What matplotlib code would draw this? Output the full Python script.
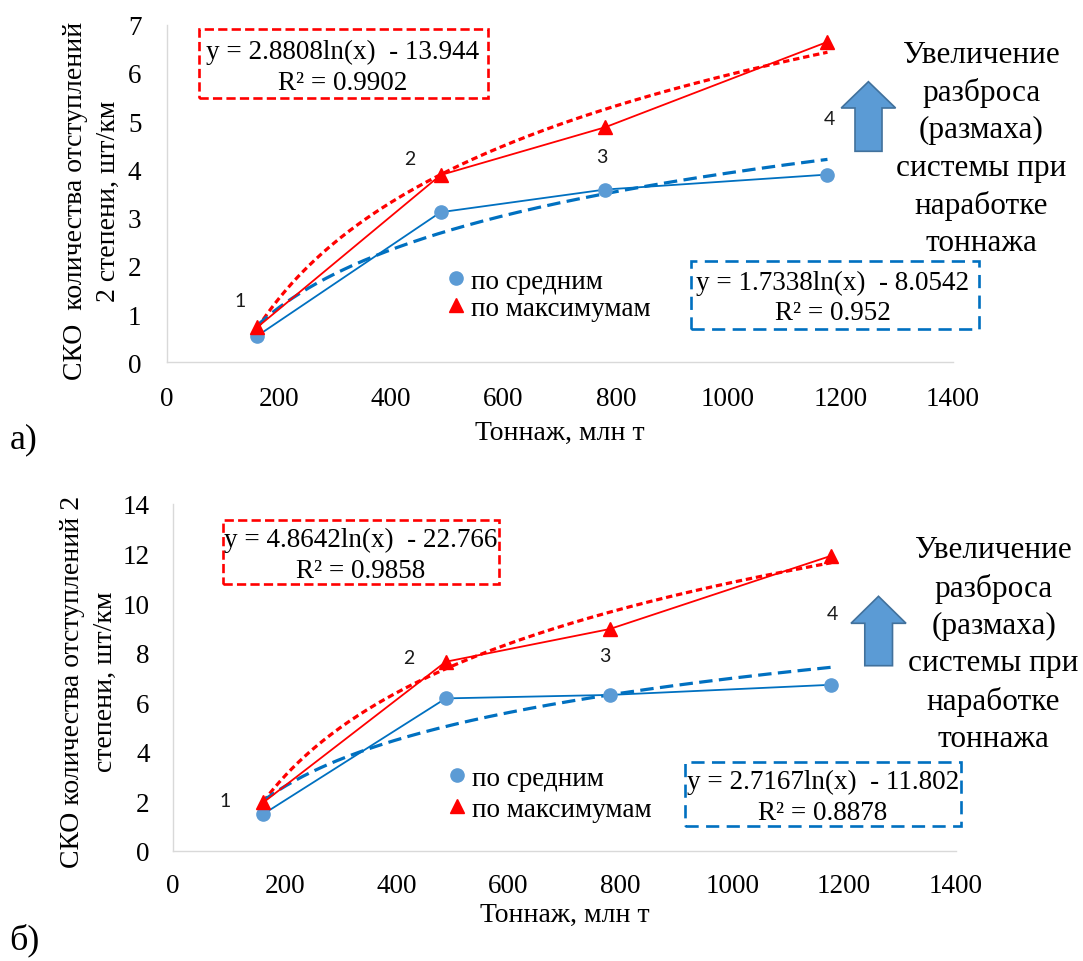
import numpy as np
import matplotlib
matplotlib.use("Agg")
import matplotlib.pyplot as plt
from matplotlib.patches import Rectangle, Polygon

# ---------------- data ----------------
tonnage = [162, 488, 781, 1177]
point_labels = ["1", "2", "3", "4"]

a_mean = [0.55, 3.11, 3.58, 3.89]
a_max = [0.73, 3.88, 4.87, 6.64]
b_mean = [1.48, 6.15, 6.29, 6.70]
b_max = [1.95, 7.63, 8.95, 11.91]

x_ticks = [0, 200, 400, 600, 800, 1000, 1200, 1400]
a_yticks = [0, 1, 2, 3, 4, 5, 6, 7]
b_yticks = [0, 2, 4, 6, 8, 10, 12, 14]

# logarithmic trend lines y = k*ln(x) + c (as printed on the chart)
a_fit_mean = (1.7338, -8.0542)
a_fit_max = (2.8808, -13.944)
b_fit_mean = (2.7167, -11.802)
b_fit_max = (4.8642, -22.766)

a_eq_max = "y = 2.8808ln(x)  - 13.944\nR² = 0.9902"
a_eq_mean = "y = 1.7338ln(x)  - 8.0542\nR² = 0.952"
b_eq_max = "y = 4.8642ln(x)  - 22.766\nR² = 0.9858"
b_eq_mean = "y = 2.7167ln(x)  - 11.802\nR² = 0.8878"

legend_labels = ["по средним", "по максимумам"]
a_ylabel = "СКО  количества отступлений\n2 степени, шт/км"
b_ylabel = "СКО количества отступлений 2\nстепени, шт/км"
xlabel = "Тоннаж, млн т"
side_note = "Увеличение\nразброса\n(размаха)\nсистемы при\nнаработке\nтоннажа"
panel_letters = ["а)", "б)"]

# ---------------- style ----------------
W, H = 1083, 962
SERIF = "Liberation Serif"
RED = "#ff0000"
BLUE_LINE = "#0070c0"
BLUE_MARK = "#5b9bd5"
ARROW_EDGE = "#41719c"
SPINE = "#d9d9d9"

fig = plt.figure(figsize=(W / 100, H / 100), dpi=100)
fig.patch.set_facecolor("white")


def fx(px):
    return px / W


def fy(py):
    return 1 - py / H


def make_axes(left, right, top, bottom):
    return fig.add_axes([fx(left), fy(bottom), fx(right - left), (bottom - top) / H])


panels = [
    dict(box=(166.5, 952.7, 25.5, 363.3), mean=a_mean, mx=a_max, yticks=a_yticks,
         fit_mean=a_fit_mean, fit_max=a_fit_max, ylabel=a_ylabel, ylab_xy=(-0.095, 0.48),
         xlab_y=-0.207, ypad=18, xpad=17,
         eq_max=a_eq_max, eq_mean=a_eq_mean,
         box_max=(198.7, 487.6, 30, 99), box_mean=(690.6, 979, 261.7, 330),
         eq_max_c=(343, 68), eq_mean_c=(833, 298.5),
         leg_anchor=(0.3593, 0.277), leg_spacing=0.08,
         lbl_off=[(-17, 35), (-31, 54), (-3, 33), (2, 56)],
         arrow=dict(tip=(868.4, 82.7), base=109, head=(841.2, 895.6), shaft=(855, 882), bottom=152.3),
         note_c=(981.5, 149.5), letter_xy=(24, 440)),
    dict(box=(172.7, 956.0, 505.0, 851.7), mean=b_mean, mx=b_max, yticks=b_yticks,
         fit_mean=b_fit_mean, fit_max=b_fit_max, ylabel=b_ylabel, ylab_xy=(-0.107, 0.49),
         xlab_y=-0.183, ypad=16.5, xpad=16,
         eq_max=b_eq_max, eq_mean=b_eq_mean,
         box_max=(222.7, 499, 521, 585), box_mean=(685.4, 960.7, 762.7, 826.7),
         eq_max_c=(361, 555.7), eq_mean_c=(823, 797.7),
         leg_anchor=(0.354, 0.2452), leg_spacing=0.22,
         lbl_off=[(-38, 14), (-37, 41), (-5, 39), (1, 71)],
         arrow=dict(tip=(878.5, 597.3), base=624.3, head=(851, 906), shaft=(864.8, 892.5), bottom=666.7),
         note_c=(993.6, 644.9), letter_xy=(24, 940)),
]

for i, p in enumerate(panels):
    left, right, top, bottom = p["box"]
    ax = make_axes(left, right, top, bottom)
    ax.set_xlim(0, 1400)
    ax.set_ylim(p["yticks"][0], p["yticks"][-1])
    ax.set_xticks(x_ticks)
    ax.set_yticks(p["yticks"])
    for s in ["top", "right"]:
        ax.spines[s].set_visible(False)
    for s in ["left", "bottom"]:
        ax.spines[s].set_color(SPINE)
        ax.spines[s].set_linewidth(1.0)
    ax.tick_params(axis="x", length=0, pad=p["xpad"], labelsize=19.5)
    ax.tick_params(axis="y", length=0, pad=p["ypad"], labelsize=19.5)
    for t in ax.get_xticklabels() + ax.get_yticklabels():
        t.set_fontfamily(SERIF)

    # trend lines
    xs = np.linspace(min(tonnage), max(tonnage), 200)
    k, c = p["fit_max"]
    ax.plot(xs, k * np.log(xs) + c, color=RED, lw=2.3, ls=(0, (2.0, 1.2)), zorder=2)
    k, c = p["fit_mean"]
    ax.plot(xs, k * np.log(xs) + c, color=BLUE_LINE, lw=2.3, ls=(0, (4.2, 2.0)), zorder=2)

    # connecting lines
    ax.plot(tonnage, p["mean"], color=BLUE_LINE, lw=1.3, zorder=3)
    ax.plot(tonnage, p["mx"], color=RED, lw=1.3, zorder=3)

    # markers
    h_mean, = ax.plot(tonnage, p["mean"], ls="none", marker="o", ms=9.5,
                      color=BLUE_MARK, mec=BLUE_MARK, zorder=4, label=legend_labels[0])
    h_max, = ax.plot(tonnage, p["mx"], ls="none", marker="^", ms=10.5,
                     color=RED, mec=RED, zorder=5, label=legend_labels[1])

    # point labels
    for xv, yv, lab, off in zip(tonnage, p["mean"], point_labels, p["lbl_off"]):
        ax.annotate(lab, (xv, yv), xytext=off, textcoords="offset pixels",
                    ha="center", va="center", fontsize=14, family="Lato", color="#1a1a1a")

    # labels
    ax.set_ylabel(p["ylabel"], fontsize=20, family=SERIF, linespacing=1.42,
                  ha="center", va="center", multialignment="center")
    ax.yaxis.set_label_coords(*p["ylab_xy"])
    ax.set_xlabel(xlabel, fontsize=20, family=SERIF, va="center")
    ax.xaxis.set_label_coords(0.5, p["xlab_y"])

    # legend
    ax.legend(handles=[h_mean, h_max], loc="upper left",
              bbox_to_anchor=p["leg_anchor"], frameon=False,
              handlelength=0.5, handletextpad=0.3, labelspacing=p["leg_spacing"],
              borderpad=0, borderaxespad=0,
              prop=dict(family=SERIF, size=19.5))

    # equation boxes
    for bx, col, dash in [(p["box_max"], RED, (0, (3.5, 1.6))),
                          (p["box_mean"], BLUE_LINE, (0, (5.0, 2.8)))]:
        l, r, t, b = bx
        fig.add_artist(Rectangle((fx(l), fy(b)), fx(r - l), (b - t) / H,
                                 transform=fig.transFigure, fill=False,
                                 edgecolor=col, lw=1.9, ls=dash, zorder=6))
    for txt, cxy in [(p["eq_max"], p["eq_max_c"]), (p["eq_mean"], p["eq_mean_c"])]:
        fig.text(fx(cxy[0]), fy(cxy[1]), txt, ha="center", va="center",
                 multialignment="center", fontsize=19.5, family=SERIF,
                 linespacing=1.3, zorder=7)

    # block arrow
    a = p["arrow"]
    pts = [(a["tip"][0], a["tip"][1]), (a["head"][1], a["base"]), (a["shaft"][1], a["base"]),
           (a["shaft"][1], a["bottom"]), (a["shaft"][0], a["bottom"]), (a["shaft"][0], a["base"]),
           (a["head"][0], a["base"])]
    fig.add_artist(Polygon([(fx(x), fy(y)) for x, y in pts], closed=True,
                           transform=fig.transFigure, facecolor=BLUE_MARK,
                           edgecolor=ARROW_EDGE, lw=1.2, zorder=6))

    # side note
    fig.text(fx(p["note_c"][0]), fy(p["note_c"][1]), side_note, ha="center", va="center",
             multialignment="center", fontsize=22.5, family=SERIF, linespacing=1.37)

    # panel letter
    fig.text(fx(p["letter_xy"][0]), fy(p["letter_xy"][1]), panel_letters[i],
             ha="center", va="center", fontsize=26, family=SERIF)

fig.savefig("out.png", dpi=100)
